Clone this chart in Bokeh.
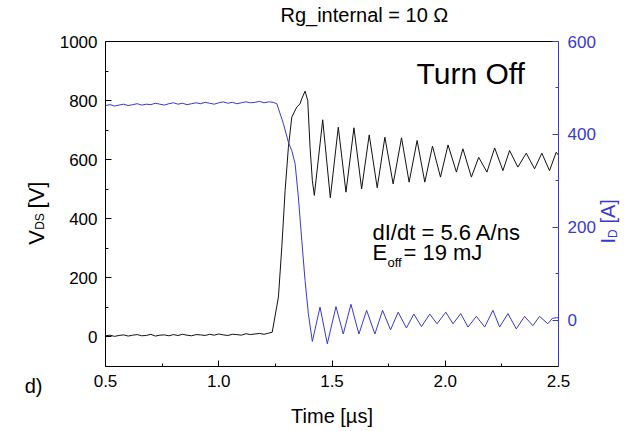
import math
from bokeh.plotting import figure
from bokeh.models import Range1d, LinearAxis, FixedTicker, Label
from bokeh.embed import file_html
from bokeh.resources import INLINE

# ---- data ----
t_vds = [0.50, 0.52, 0.54, 0.56, 0.58, 0.60, 0.62, 0.64, 0.66, 0.68, 0.70, 0.72, 0.74,
         0.76, 0.78, 0.80, 0.82, 0.84, 0.86, 0.88, 0.90, 0.92, 0.94, 0.96, 0.98, 1.00,
         1.02, 1.04, 1.06, 1.08, 1.10, 1.12, 1.14, 1.16, 1.18, 1.20, 1.22, 1.236,
         1.2635, 1.2784, 1.2930, 1.3075, 1.3225, 1.3445, 1.3590, 1.3665, 1.3811, 1.3930,
         1.4031, 1.4132, 1.4220,
         1.459, 1.4925, 1.5278, 1.5617, 1.5969, 1.6308, 1.6643, 1.6996, 1.7335, 1.7700,
         1.8070, 1.8405, 1.8758, 1.9097, 1.9436, 1.9789, 2.0123, 2.0493, 2.0780, 2.1154,
         2.1476, 2.1841, 2.2181, 2.2546, 2.2841, 2.3207, 2.3577, 2.3943, 2.4264, 2.4604,
         2.4899, 2.5]
vds = [4, 6, 2, 5, 7, 3, 6, 8, 4, 5, 9, 3, 6, 7, 4, 8, 5, 9, 6, 4, 8, 7, 5, 9, 6, 10,
       7, 5, 9, 8, 6, 11, 8, 10, 12, 9, 13, 16,
       135, 304, 496, 642, 744, 778, 789, 806, 832, 800,
       642, 530, 479,
       735, 471, 710, 490, 708, 501, 684, 505, 676, 518,
       674, 524, 665, 524, 646, 541, 650, 558, 637, 541,
       608, 558, 640, 563, 631, 575, 622, 569, 622, 563,
       625, 615]

t_id = [0.50, 0.52, 0.54, 0.56, 0.58, 0.60, 0.62, 0.64, 0.66, 0.68, 0.70, 0.72, 0.74,
        0.76, 0.78, 0.80, 0.82, 0.84, 0.86, 0.88, 0.90, 0.92, 0.94, 0.96, 0.98, 1.00,
        1.02, 1.04, 1.06, 1.08, 1.10, 1.12, 1.14, 1.16, 1.18, 1.20, 1.22, 1.24, 1.2564,
        1.2855, 1.3075, 1.3225, 1.3370, 1.3515, 1.3665, 1.3811, 1.3956, 1.4132,
        1.4471, 1.4793, 1.5176, 1.5498, 1.5837, 1.6189, 1.6529, 1.6894, 1.7233, 1.7586,
        1.7921, 1.8286, 1.8612, 1.8952, 1.9317, 1.9639, 2.0022, 2.0344, 2.0683, 2.1004,
        2.1374, 2.1740, 2.2106, 2.2401, 2.2767, 2.3137, 2.3502, 2.3868, 2.4163, 2.4529,
        2.4736, 2.4900, 2.5]
i_d = [462, 464, 461, 463, 465, 462, 464, 466, 463, 465, 464, 467, 465, 463, 466, 468,
       465, 467, 464, 466, 468, 466, 469, 467, 465, 468, 470, 467, 469, 466, 468, 470,
       468, 469, 471, 468, 470, 469, 466,
       423, 383, 365, 337, 265, 172, 85, 14, -46,
       28, -51, 29, -30, 34, -30, 21, -30, 21, -21,
       17, -17, 13, -14, 13, -8, 17, -8, 14, -15,
       8, -15, 21, -15, 14, -19, 8, -12, 8, -8,
       4, 5, 5]

x_ticks = [0.5, 1.0, 1.5, 2.0, 2.5]
x_tick_labels = ["0.5", "1.0", "1.5", "2.0", "2.5"]
x_minor = [0.75, 1.25, 1.75, 2.25]
v_ticks = [0, 200, 400, 600, 800, 1000]
v_minor = [100, 300, 500, 700, 900]
i_ticks = [0, 200, 400, 600]
i_minor = [100, 300, 500]

title_text = "Rg_internal = 10 Ω"
x_label = "Time [µs]"

BLUE = "#3838d2"
BLACK = "#111111"
FONT = "Liberation Sans"

p = figure(width=633, height=431, output_backend="svg", toolbar_location=None,
           x_range=Range1d(0.5, 2.5), y_range=Range1d(-100, 1000),
           min_border_left=105, min_border_right=74, min_border_top=41,
           min_border_bottom=65)
p.extra_y_ranges = {"i": Range1d(-100, 600)}
p.grid.visible = False
p.outline_line_color = None
p.background_fill_color = "white"
p.border_fill_color = "white"


def style_ticks(ax, color):
    ax.axis_line_color = color
    ax.major_tick_line_color = color
    ax.minor_tick_line_color = color
    ax.major_tick_in = 6
    ax.major_tick_out = 0
    ax.minor_tick_in = 3
    ax.minor_tick_out = 0
    ax.major_label_text_font = FONT
    ax.major_label_text_font_size = "17px"
    ax.major_label_text_color = color


def text_axis(y_range_name, ticks, texts, size, color, standoff, orient):
    ax = LinearAxis(y_range_name=y_range_name,
                    ticker=FixedTicker(ticks=ticks, minor_ticks=[]))
    ax.major_label_overrides = {k: v for k, v in zip(ticks, texts)}
    ax.axis_line_color = None
    ax.major_tick_line_color = None
    ax.minor_tick_line_color = None
    ax.major_tick_in = 0
    ax.major_tick_out = 0
    ax.minor_tick_in = 0
    ax.minor_tick_out = 0
    ax.major_label_text_font = FONT
    ax.major_label_text_font_size = size
    ax.major_label_text_color = color
    ax.major_label_standoff = standoff
    ax.major_label_orientation = orient
    return ax


# x axis (bottom)
xa = p.xaxis[0]
xa.ticker = FixedTicker(ticks=x_ticks, minor_ticks=x_minor)
xa.major_label_overrides = {k: v for k, v in zip(x_ticks, x_tick_labels)}
style_ticks(xa, "black")
xa.major_label_standoff = 8
xa.axis_label = x_label
xa.axis_label_text_font = FONT
xa.axis_label_text_font_size = "20px"
xa.axis_label_text_font_style = "normal"
xa.axis_label_text_color = "black"
xa.axis_label_standoff = 15

# top border line carrying the title as its single label
ta = LinearAxis(ticker=FixedTicker(ticks=[1.643], minor_ticks=[]))
ta.major_label_overrides = {1.643: title_text}
ta.axis_line_color = "black"
ta.major_tick_line_color = None
ta.minor_tick_line_color = None
ta.major_tick_in = 0
ta.major_tick_out = 0
ta.major_label_text_font = FONT
ta.major_label_text_font_size = "20px"
ta.major_label_text_color = "black"
ta.major_label_standoff = 16
p.add_layout(ta, "above")

# left axis (V_DS)
ya = p.yaxis[0]
ya.ticker = FixedTicker(ticks=v_ticks, minor_ticks=v_minor)
style_ticks(ya, "black")
ya.major_label_standoff = 8

# left-side texts: subscript, panel label, main label (stacked outward)
p.add_layout(text_axis("default", [390.8], ["DS"], "12px", "black", 9, "vertical"), "left")
dax = text_axis("default", [-100], ["\nd)"], "20px", "black", -12, "horizontal")
dax.major_label_text_line_height = 1.75
p.add_layout(dax, "left")
p.add_layout(text_axis("default", [336.6, 480.5], ["V", "[V]"], "22px", "black", -28,
                       "vertical"), "left")

# right axis (I_D)
ra = LinearAxis(y_range_name="i", ticker=FixedTicker(ticks=i_ticks, minor_ticks=i_minor))
style_ticks(ra, BLUE)
ra.major_label_standoff = 9
p.add_layout(ra, "right")
UP = math.pi / 2
p.add_layout(text_axis("i", [164.9, 207.8], ["I", "[A]"], "20px", BLUE, 10, UP), "right")
p.add_layout(text_axis("i", [177.0], ["D"], "12px", BLUE, -20, UP), "right")

# data
p.line(t_vds, vds, line_color=BLACK, line_width=1)
p.line(t_id, i_d, y_range_name="i", line_color=BLUE, line_width=1)


def lab(x, y, text, size, color="black"):
    p.add_layout(Label(x=x, y=y, x_units="screen", y_units="screen", text=text,
                       text_font=FONT, text_font_size=size, text_color=color,
                       text_align="left", text_baseline="alphabetic"))


# annotations inside the frame (screen offsets from frame bottom-left)
lab(311, 293, "Turn Off", "30px")
lab(267, 134, "dI/dt = 5.6 A/ns", "22px")
lab(267, 114, "E", "22px")
lab(282, 104, "off", "13px")
lab(298, 114, "= 19 mJ", "22px")

open("out.html", "w").write(file_html(p, INLINE))
